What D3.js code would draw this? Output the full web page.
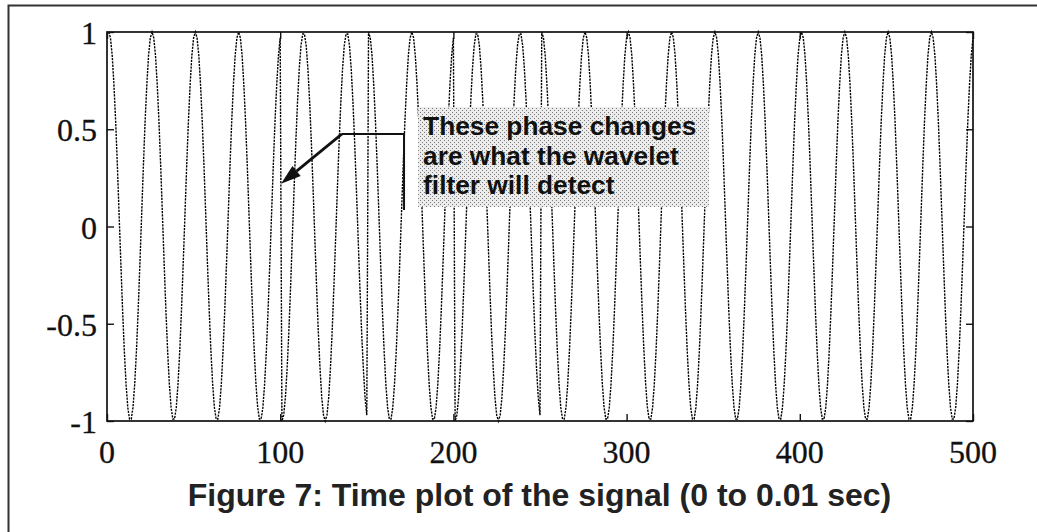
<!DOCTYPE html>
<html><head><meta charset="utf-8">
<script src="https://cdn.jsdelivr.net/npm/d3@7/dist/d3.min.js"></script>
<style>html,body{margin:0;padding:0;background:#fff;}svg{display:block;}</style>
</head><body>
<svg id="chart" width="1037" height="532"></svg>
<script>
// ---- data ----
const xTicks = [0, 100, 200, 300, 400, 500];
const yTicks = [-1, -0.5, 0, 0.5, 1];
const yTickLabels = ["-1", "-0.5", "0", "0.5", "1"];
const firstSample = 1;
// signal samples 1..500 (period 25 samples, phase flips at samples 101, 151, 201, 251)
const signal = [
 1,.97,.88,.73,.54,.31,.06,-.19,-.43,-.64,-.81,-.93,-.99,-.99,-.93,-.81,-.64,-.43,-.19,.06,.31,.54,.73,.88,.97,
 1,.97,.88,.73,.54,.31,.06,-.19,-.43,-.64,-.81,-.93,-.99,-.99,-.93,-.81,-.64,-.43,-.19,.06,.31,.54,.73,.88,.97,
 1,.97,.88,.73,.54,.31,.06,-.19,-.43,-.64,-.81,-.93,-.99,-.99,-.93,-.81,-.64,-.43,-.19,.06,.31,.54,.73,.88,.97,
 1,.97,.88,.73,.54,.31,.06,-.19,-.43,-.64,-.81,-.93,-.99,-.99,-.93,-.81,-.64,-.43,-.19,.06,.31,.54,.73,.88,.97,
 -1,-.97,-.88,-.73,-.54,-.31,-.06,.19,.43,.64,.81,.93,.99,.99,.93,.81,.64,.43,.19,-.06,-.31,-.54,-.73,-.88,-.97,
 -1,-.97,-.88,-.73,-.54,-.31,-.06,.19,.43,.64,.81,.93,.99,.99,.93,.81,.64,.43,.19,-.06,-.31,-.54,-.73,-.88,-.97,
 1,.97,.88,.73,.54,.31,.06,-.19,-.43,-.64,-.81,-.93,-.99,-.99,-.93,-.81,-.64,-.43,-.19,.06,.31,.54,.73,.88,.97,
 1,.97,.88,.73,.54,.31,.06,-.19,-.43,-.64,-.81,-.93,-.99,-.99,-.93,-.81,-.64,-.43,-.19,.06,.31,.54,.73,.88,.97,
 -1,-.97,-.88,-.73,-.54,-.31,-.06,.19,.43,.64,.81,.93,.99,.99,.93,.81,.64,.43,.19,-.06,-.31,-.54,-.73,-.88,-.97,
 -1,-.97,-.88,-.73,-.54,-.31,-.06,.19,.43,.64,.81,.93,.99,.99,.93,.81,.64,.43,.19,-.06,-.31,-.54,-.73,-.88,-.97,
 1,.97,.88,.73,.54,.31,.06,-.19,-.43,-.64,-.81,-.93,-.99,-.99,-.93,-.81,-.64,-.43,-.19,.06,.31,.54,.73,.88,.97,
 1,.97,.88,.73,.54,.31,.06,-.19,-.43,-.64,-.81,-.93,-.99,-.99,-.93,-.81,-.64,-.43,-.19,.06,.31,.54,.73,.88,.97,
 1,.97,.88,.73,.54,.31,.06,-.19,-.43,-.64,-.81,-.93,-.99,-.99,-.93,-.81,-.64,-.43,-.19,.06,.31,.54,.73,.88,.97,
 1,.97,.88,.73,.54,.31,.06,-.19,-.43,-.64,-.81,-.93,-.99,-.99,-.93,-.81,-.64,-.43,-.19,.06,.31,.54,.73,.88,.97,
 1,.97,.88,.73,.54,.31,.06,-.19,-.43,-.64,-.81,-.93,-.99,-.99,-.93,-.81,-.64,-.43,-.19,.06,.31,.54,.73,.88,.97,
 1,.97,.88,.73,.54,.31,.06,-.19,-.43,-.64,-.81,-.93,-.99,-.99,-.93,-.81,-.64,-.43,-.19,.06,.31,.54,.73,.88,.97,
 1,.97,.88,.73,.54,.31,.06,-.19,-.43,-.64,-.81,-.93,-.99,-.99,-.93,-.81,-.64,-.43,-.19,.06,.31,.54,.73,.88,.97,
 1,.97,.88,.73,.54,.31,.06,-.19,-.43,-.64,-.81,-.93,-.99,-.99,-.93,-.81,-.64,-.43,-.19,.06,.31,.54,.73,.88,.97,
 1,.97,.88,.73,.54,.31,.06,-.19,-.43,-.64,-.81,-.93,-.99,-.99,-.93,-.81,-.64,-.43,-.19,.06,.31,.54,.73,.88,.97,
 1,.97,.88,.73,.54,.31,.06,-.19,-.43,-.64,-.81,-.93,-.99,-.99,-.93,-.81,-.64,-.43,-.19,.06,.31,.54,.73,.88,.97
];
const noteLines = ["These phase changes", "are what the wavelet", "filter will detect"];
const noteArrowTip = [100.5, 0.22];
const noteElbow = [135.7, 0.476];
const noteBar = [171.5, 0.085];
const noteBoxX = [179.6, 347.6];
const noteBoxY = [0.614, 0.10];
const caption = "Figure 7: Time plot of the signal (0 to 0.01 sec)";

// ---- drawing ----
const svg = d3.select("#chart");
const M = {left: 107, right: 973, top: 32, bottom: 421};
const x = d3.scaleLinear().domain([0, 500]).range([M.left, M.right]);
const y = d3.scaleLinear().domain([-1, 1]).range([M.bottom, M.top]);

const defs = svg.append("defs");
const pat = defs.append("pattern").attr("id", "stip").attr("width", 4).attr("height", 4)
  .attr("patternUnits", "userSpaceOnUse");
pat.append("rect").attr("width", 4).attr("height", 4).attr("fill", "#ececec");
pat.append("rect").attr("x", 0).attr("y", 0).attr("width", 1).attr("height", 1).attr("fill", "#7a7a7a");
pat.append("rect").attr("x", 2).attr("y", 2).attr("width", 1).attr("height", 1).attr("fill", "#7a7a7a");

// outer frame (left & top visible)
svg.append("path").attr("d", "M8.5,532 V5.5 H1037").attr("fill", "none")
  .attr("stroke", "#333").attr("stroke-width", 2);

// signal
const line = d3.line().x((d, i) => x(i + firstSample)).y(d => y(d));
svg.append("path").datum(signal).attr("d", line).attr("fill", "none")
  .attr("stroke", "#000").attr("stroke-width", 1.4).attr("stroke-dasharray", "2.2,1.1");

// axes box with inward ticks
const tickLen = 7;
const gB = svg.append("g").attr("transform", `translate(0,${M.bottom})`)
  .call(d3.axisBottom(x).tickValues(xTicks).tickSize(-tickLen).tickFormat(""));
const gT = svg.append("g").attr("transform", `translate(0,${M.top})`)
  .call(d3.axisTop(x).tickValues(xTicks).tickSize(-tickLen).tickFormat(""));
const gL = svg.append("g").attr("transform", `translate(${M.left},0)`)
  .call(d3.axisLeft(y).tickValues(yTicks).tickSize(-tickLen).tickFormat(""));
const gR = svg.append("g").attr("transform", `translate(${M.right},0)`)
  .call(d3.axisRight(y).tickValues(yTicks).tickSize(-tickLen).tickFormat(""));
[gB, gT, gL, gR].forEach(g => {
  g.select(".domain").remove();
  g.selectAll("line").attr("stroke", "#111").attr("stroke-width", 1.4);
});
svg.append("rect").attr("x", M.left).attr("y", M.top).attr("width", M.right - M.left)
  .attr("height", M.bottom - M.top).attr("fill", "none").attr("stroke", "#111").attr("stroke-width", 1.7);

// tick labels
const tickFont = "'Liberation Serif', 'Times New Roman', serif";
svg.append("g").selectAll("text").data(xTicks).join("text")
  .attr("x", d => x(d)).attr("y", 463).attr("text-anchor", "middle")
  .attr("font-family", tickFont).attr("font-size", 32).attr("fill", "#111")
  .attr("stroke", "#111").attr("stroke-width", 0.3).text(d => d);
svg.append("g").selectAll("text").data(yTicks).join("text")
  .attr("x", M.left - 10).attr("y", d => y(d) + 12).attr("text-anchor", "end")
  .attr("font-family", tickFont).attr("font-size", 32).attr("fill", "#111")
  .attr("stroke", "#111").attr("stroke-width", 0.3)
  .text((d, i) => yTickLabels[i]);

// annotation
svg.append("rect").attr("x", x(noteBoxX[0])).attr("y", y(noteBoxY[0]))
  .attr("width", x(noteBoxX[1]) - x(noteBoxX[0])).attr("height", y(noteBoxY[1]) - y(noteBoxY[0]))
  .attr("fill", "url(#stip)");
const bx = x(noteBoxX[0]), by = y(noteBoxY[0]);
svg.append("g").selectAll("text").data(noteLines).join("text")
  .attr("x", bx + 5).attr("y", (d, i) => by + 28 + i * 29.5)
  .attr("font-family", "'Liberation Sans', Arial, sans-serif").attr("font-weight", "bold")
  .attr("font-size", 26.3).attr("fill", "#111").text(d => d);
svg.append("path")
  .attr("d", `M${x(noteBar[0])},${y(noteBar[1])} V${y(noteElbow[1])} H${x(noteElbow[0])}`)
  .attr("fill", "none").attr("stroke", "#111").attr("stroke-width", 2);
// arrow shaft + head
const ex = x(noteElbow[0]), ey = y(noteElbow[1]);
const tx = x(noteArrowTip[0]), ty = y(noteArrowTip[1]);
const ang = Math.atan2(ty - ey, tx - ex);
const hl = 20, hw = 6.5;
const bxh = tx - hl * Math.cos(ang), byh = ty - hl * Math.sin(ang);
svg.append("line").attr("x1", ex).attr("y1", ey).attr("x2", bxh).attr("y2", byh)
  .attr("stroke", "#111").attr("stroke-width", 2.8);
svg.append("path")
  .attr("d", `M${tx},${ty} L${bxh - hw * Math.sin(ang)},${byh + hw * Math.cos(ang)} L${bxh + hw * Math.sin(ang)},${byh - hw * Math.cos(ang)} Z`)
  .attr("fill", "#111");

// caption
svg.append("text").attr("x", 539.5).attr("y", 506).attr("text-anchor", "middle")
  .attr("font-family", "'Liberation Sans', Arial, sans-serif").attr("font-weight", "bold")
  .attr("font-size", 32).attr("fill", "#222").text(caption);
</script>
</body></html>
